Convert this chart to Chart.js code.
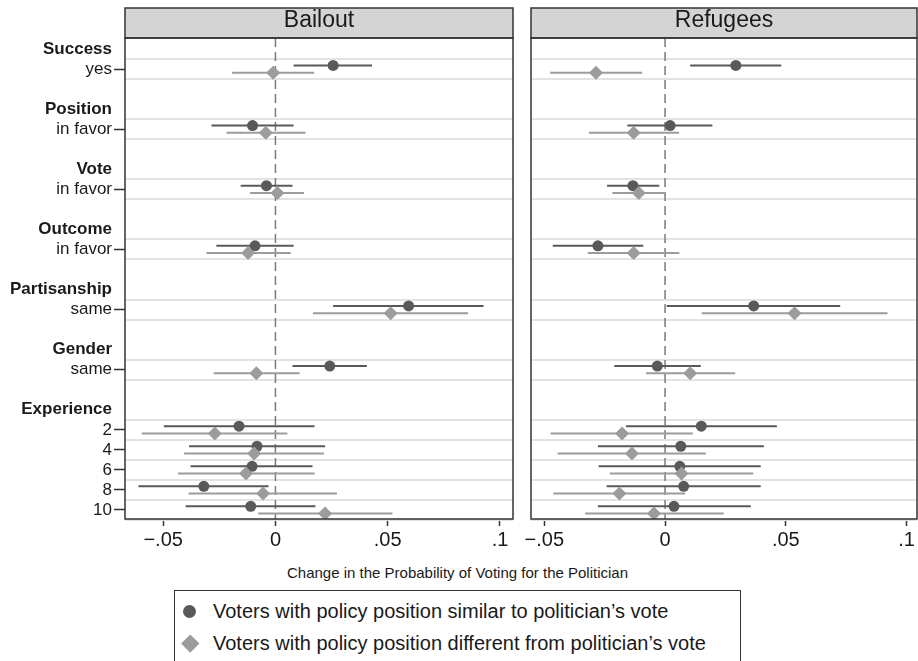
<!DOCTYPE html>
<html>
<head>
<meta charset="utf-8">
<script src="https://cdn.jsdelivr.net/npm/chart.js@4.4.0/dist/chart.umd.min.js"></script>
<style>
body { margin: 0; background: #fff; font-family: "Liberation Sans", Arial, sans-serif; }
#wrap { position: relative; width: 918px; height: 661px; overflow: hidden; background: #fff; }
#bailout { position: absolute; left: 0; top: 0; }
#refugees { position: absolute; left: 522px; top: 0; }
#xtitle { position: absolute; left: 0; width: 915px; top: 564px; text-align: center; font-size: 15px; color: #1a1a1a; }
#legend { position: absolute; left: 174px; top: 590px; width: 565px; height: 100px; border: 1.5px solid #333; }
.item { position: absolute; left: 38px; font-size: 20px; line-height: 24px; color: #1a1a1a; white-space: nowrap; }
.dot { position: absolute; left: -30px; top: 5.5px; width: 13px; height: 13px; border-radius: 50%; background: #595959; }
.dia { position: absolute; left: -29px; top: 5.5px; width: 12.5px; height: 12.5px; background: #9c9c9c; transform: rotate(45deg); }
</style>
</head>
<body>
<div id="wrap">
  <canvas id="bailout" width="522" height="560"></canvas>
  <canvas id="refugees" width="396" height="560"></canvas>
  <div id="xtitle">Change in the Probability of Voting for the Politician</div>
  <div id="legend">
    <div class="item" style="top:8px"><span class="dot"></span>Voters with policy position similar to politician’s vote</div>
    <div class="item" style="top:40px"><span class="dia"></span>Voters with policy position different from politician’s vote</div>
  </div>
</div>
<script>
// attribute groups and their levels, top to bottom
var groups = ['Success', 'Position', 'Vote', 'Outcome', 'Partisanship', 'Gender', 'Experience'];
var levels = [['yes'], ['in favor'], ['in favor'], ['in favor'], ['same'], ['same'], ['2', '4', '6', '8', '10']];

// Bailout: estimates and 95% bounds
var bailoutSimilar     = [0.0257, -0.0102, -0.0040, -0.0091, 0.0593, 0.0242, -0.0162, -0.0082, -0.0104, -0.0319, -0.0110];
var bailoutSimilarLo   = [0.0081, -0.0285, -0.0155, -0.0263, 0.0257, 0.0076, -0.0497, -0.0385, -0.0378, -0.0610, -0.0400];
var bailoutSimilarHi   = [0.0430, 0.0081, 0.0076, 0.0081, 0.0927, 0.0407, 0.0174, 0.0221, 0.0165, -0.0031, 0.0178];
var bailoutDifferent   = [-0.0010, -0.0043, 0.0009, -0.0122, 0.0513, -0.0085, -0.0270, -0.0095, -0.0131, -0.0055, 0.0221];
var bailoutDifferentLo = [-0.0193, -0.0218, -0.0113, -0.0307, 0.0167, -0.0275, -0.0595, -0.0407, -0.0434, -0.0387, -0.0077];
var bailoutDifferentHi = [0.0172, 0.0134, 0.0127, 0.0068, 0.0858, 0.0108, 0.0053, 0.0216, 0.0175, 0.0274, 0.0521];

// Refugees: estimates and 95% bounds
var refugeesSimilar     = [0.0293, 0.0021, -0.0133, -0.0278, 0.0367, -0.0032, 0.0150, 0.0065, 0.0061, 0.0077, 0.0037];
var refugeesSimilarLo   = [0.0104, -0.0156, -0.0240, -0.0465, 0.0007, -0.0210, -0.0162, -0.0278, -0.0275, -0.0242, -0.0278];
var refugeesSimilarHi   = [0.0481, 0.0196, -0.0024, -0.0090, 0.0725, 0.0148, 0.0463, 0.0409, 0.0396, 0.0396, 0.0355];
var refugeesDifferent   = [-0.0286, -0.0130, -0.0109, -0.0130, 0.0536, 0.0104, -0.0178, -0.0137, 0.0068, -0.0189, -0.0046];
var refugeesDifferentLo = [-0.0476, -0.0315, -0.0218, -0.0320, 0.0152, -0.0079, -0.0474, -0.0445, -0.0229, -0.0463, -0.0331];
var refugeesDifferentHi = [-0.0095, 0.0058, 0.0000, 0.0059, 0.0921, 0.0290, 0.0115, 0.0169, 0.0365, 0.0083, 0.0243];

var xTicks = [-0.05, 0, 0.05, 0.1];
var refValue = 0;

var FONT = '"Liberation Sans", Arial, Helvetica, sans-serif';
var DARK = '#595959', LIGHT = '#9c9c9c';

// lay out rows: header line, its levels, then a blank line before the next group
var yTicks = [];   // {value, label, head}
var rowY = [];     // y position of each level row
var p = 0;
groups.forEach(function (g, gi) {
    yTicks.push({ value: p, label: g, head: true });
    levels[gi].forEach(function (lv) {
        p++;
        yTicks.push({ value: p, label: lv, head: false });
        rowY.push(p);
    });
    p += 2;
});
var yMin = -0.55, yMax = rowY[rowY.length - 1] + 0.45;
var gridY = [];
rowY.forEach(function (y) {
    if (gridY.indexOf(y - 0.5) < 0) gridY.push(y - 0.5);
    gridY.push(y + 0.5);
});

function fmtTick(v) {
    if (Math.abs(v) < 1e-9) return '0';
    var s = String(Math.abs(+v.toFixed(4))).replace(/^0/, '');
    return (v < 0 ? '\u2212' : '') + s;
}

function ciSegments(lo, hi, shift) {
    var pts = [];
    for (var i = 0; i < lo.length; i++) {
        pts.push({ x: lo[i], y: rowY[i] + shift });
        pts.push({ x: hi[i], y: rowY[i] + shift });
        pts.push({ x: null, y: null });
    }
    return pts;
}
function points(est, shift) {
    return est.map(function (v, i) { return { x: v, y: rowY[i] + shift }; });
}

// keep the plot box where the layout puts it, labels may hang over
function noPad(s) {
    s.paddingLeft = 0; s.paddingRight = 0; s.paddingTop = 0; s.paddingBottom = 0;
}

// header strip and frame around each panel
var panelFrame = {
    id: 'panelFrame',
    beforeDraw: function (chart) {
        var a = chart.chartArea, ctx = chart.ctx;
        ctx.save();
        ctx.fillStyle = '#d4d4d4';
        ctx.fillRect(a.left, 8, a.right - a.left, a.top - 8);
        ctx.restore();
    },
    afterDraw: function (chart) {
        var a = chart.chartArea, ctx = chart.ctx;
        ctx.save();
        ctx.strokeStyle = '#333';
        ctx.lineWidth = 1.5;
        ctx.strokeRect(a.left, 8, a.right - a.left, a.top - 8);
        ctx.strokeRect(a.left, a.top, a.right - a.left, a.bottom - a.top);
        ctx.restore();
    }
};

function panelConfig(title, sim, simLo, simHi, dif, difLo, difHi, xMin, xMax, showY, padRight) {
    var off = 0.18;
    return {
        type: 'scatter',
        data: {
            datasets: [
                { data: [{ x: refValue, y: yMin }, { x: refValue, y: yMax }], showLine: true,
                  borderColor: '#7a7a7a', borderWidth: 1.5, borderDash: [9, 5], pointRadius: 0, order: 5 },
                { data: ciSegments(simLo, simHi, -off), showLine: true, spanGaps: false,
                  borderColor: DARK, borderWidth: 2, pointRadius: 0, order: 4 },
                { data: points(sim, -off), pointStyle: 'circle', pointRadius: 5.5,
                  backgroundColor: DARK, borderWidth: 0, order: 3 },
                { data: ciSegments(difLo, difHi, off), showLine: true, spanGaps: false,
                  borderColor: LIGHT, borderWidth: 2, pointRadius: 0, order: 2 },
                { data: points(dif, off), pointStyle: 'rectRot', pointRadius: 7,
                  backgroundColor: LIGHT, borderWidth: 0, order: 1 }
            ]
        },
        options: {
            responsive: false,
            maintainAspectRatio: false,
            animation: false,
            events: [],
            layout: { padding: { top: 8, left: 0, right: padRight, bottom: 0 } },
            plugins: {
                legend: { display: false },
                tooltip: { enabled: false },
                title: {
                    display: true, text: title, fullSize: false, color: '#1a1a1a',
                    font: { family: FONT, size: 23, weight: 'normal', lineHeight: '25px' },
                    padding: { top: 0, bottom: 5 }
                }
            },
            scales: {
                x: {
                    type: 'linear', position: 'bottom', min: xMin, max: xMax,
                    afterBuildTicks: function (s) { s.ticks = xTicks.map(function (v) { return { value: v }; }); },
                    afterFit: function (s) { s.height = 41; noPad(s); },
                    border: { display: false },
                    grid: { drawOnChartArea: false, drawTicks: true, tickLength: 7, tickColor: '#333', tickWidth: 1.5 },
                    ticks: { autoSkip: false, maxRotation: 0, padding: 2, color: '#1a1a1a',
                             font: { family: FONT, size: 20 }, callback: function (v) { return fmtTick(v); } }
                },
                y: {
                    type: 'linear', position: 'left', reverse: true, min: yMin, max: yMax,
                    afterBuildTicks: function (s) { s.ticks = yTicks.map(function (t) { return { value: t.value }; }); },
                    afterFit: function (s) { s.width = showY ? 125 : 9; noPad(s); },
                    border: { display: false },
                    grid: {
                        drawOnChartArea: false, drawTicks: showY, tickLength: 11, tickWidth: 1.5,
                        tickColor: function (c) { return yTicks[c.index] && yTicks[c.index].head ? 'rgba(0,0,0,0)' : '#333'; }
                    },
                    ticks: {
                        display: showY, autoSkip: false, padding: 2, color: '#1a1a1a',
                        font: function (c) {
                            var h = yTicks[c.index] && yTicks[c.index].head;
                            return { family: FONT, size: 17, weight: h ? 'bold' : 'normal' };
                        },
                        callback: function (v, i) { return yTicks[i].label; }
                    }
                },
                rows: {
                    type: 'linear', position: 'right', reverse: true, min: yMin, max: yMax,
                    afterBuildTicks: function (s) { s.ticks = gridY.map(function (v) { return { value: v }; }); },
                    afterFit: function (s) { s.width = 0; noPad(s); },
                    border: { display: false },
                    grid: { drawOnChartArea: true, drawTicks: false, color: '#e3e3e3', lineWidth: 2 },
                    ticks: { display: false }
                }
            }
        },
        plugins: [panelFrame]
    };
}

// build a panel; if the layout leaves extra room on the right, rebuild on a wider
// canvas so the plot box ends at the wanted edge (the overhang is clipped by #wrap)
function makePanel(id, baseWidth, args) {
    var canvas = document.getElementById(id);
    var padRight = args[args.length - 1];
    var chart = new Chart(canvas, panelConfig.apply(null, args));
    var extra = Math.round((baseWidth - padRight) - chart.chartArea.right);
    if (extra > 0) {
        chart.destroy();
        canvas.width = baseWidth + extra;
        canvas.height = 560;
        canvas.style.width = (baseWidth + extra) + 'px';
        canvas.style.height = '560px';
        chart = new Chart(canvas, panelConfig.apply(null, args));
    }
    return chart;
}

makePanel('bailout', 522, ['Bailout', bailoutSimilar, bailoutSimilarLo, bailoutSimilarHi,
          bailoutDifferent, bailoutDifferentLo, bailoutDifferentHi, -0.067, 0.1058, true, 9]);
makePanel('refugees', 396, ['Refugees', refugeesSimilar, refugeesSimilarLo, refugeesSimilarHi,
          refugeesDifferent, refugeesDifferentLo, refugeesDifferentHi, -0.0555, 0.1043, false, 1]);
</script>
</body>
</html>
